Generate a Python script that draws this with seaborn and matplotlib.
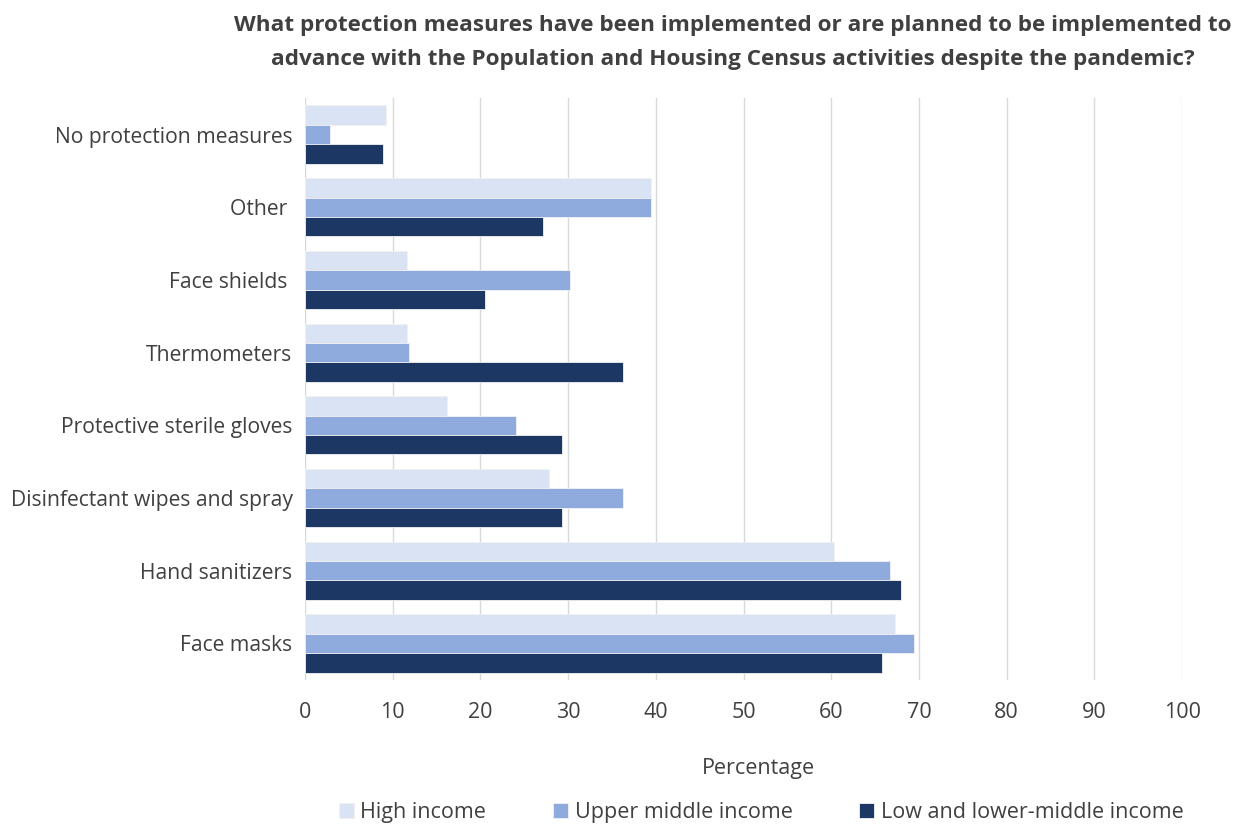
"""
Protection measures for census field work, by income group.
Horizontal grouped bar chart.
"""

import pandas as pd
import matplotlib.pyplot as plt
import seaborn as sns

# Data
MEASURES = ['No protection measures', 'Other ', 'Face shields ', 'Thermometers',
            'Protective sterile gloves', 'Disinfectant wipes and spray',
            'Hand sanitizers', 'Face masks']
GROUPS = ['High income', 'Upper middle income', 'Low and lower-middle income']
HIGH = [9.2, 39.4, 11.6, 11.6, 16.2, 27.8, 60.3, 67.3]
UPPER = [2.9, 39.4, 30.2, 11.9, 24.1, 36.3, 66.7, 69.4]
LOW = [8.9, 27.1, 20.5, 36.3, 29.3, 29.3, 67.9, 65.8]
X_TICKS = list(range(0, 101, 10))

COLORS = ['#dae3f3', '#8faadc', '#1c3763']
TEXT = '#404040'


def build_frame():
    rows = []
    for grp, vals in zip(GROUPS, [HIGH, UPPER, LOW]):
        for m, v in zip(MEASURES, vals):
            rows.append({'Measure': m, 'Group': grp, 'Value': v})
    return pd.DataFrame(rows)


def main():
    df = build_frame()
    sns.set_theme(style='white')
    plt.rcParams['font.family'] = ['Open Sans', 'DejaVu Sans']

    fig, ax = plt.subplots(figsize=(12.47, 8.25), dpi=100)
    fig.subplots_adjust(left=0.2446, right=0.948, top=0.881, bottom=0.176)

    sns.barplot(data=df, y='Measure', x='Value', hue='Group', order=MEASURES,
                hue_order=GROUPS, palette=COLORS, saturation=1, orient='h',
                width=0.8, edgecolor='#f2f2f2', linewidth=0.6, ax=ax)

    ax.set_xlim(0, 100)
    ax.set_xticks(X_TICKS)
    ax.xaxis.grid(True, color='#d9d9d9', linewidth=1)
    ax.set_axisbelow(True)
    for s in ax.spines.values():
        s.set_visible(False)
    ax.tick_params(axis='x', labelsize=15.5, colors=TEXT, length=0, pad=16)
    ax.tick_params(axis='y', labelsize=15.2, colors=TEXT, length=0, pad=9)
    ax.set_ylabel('')
    ax.set_xlabel('Percentage', fontsize=15.5, color=TEXT)
    ax.xaxis.set_label_coords(0.517, -0.135)

    ax.legend(loc='center', bbox_to_anchor=(0.52, -0.228), ncol=3,
              frameon=False, fontsize=15.5, labelcolor=TEXT, handlelength=0.7,
              handleheight=0.7, handletextpad=0.3, columnspacing=3.1)

    fig.text(0.588, 0.982, 'What protection measures have been implemented or are planned to be implemented to\n'
             'advance with the Population and Housing Census activities despite the pandemic?',
             ha='center', va='top', fontsize=16.2, fontweight='bold', color=TEXT,
             linespacing=1.8)

    fig.savefig('out.png', dpi=100)
    plt.close(fig)


if __name__ == '__main__':
    main()
